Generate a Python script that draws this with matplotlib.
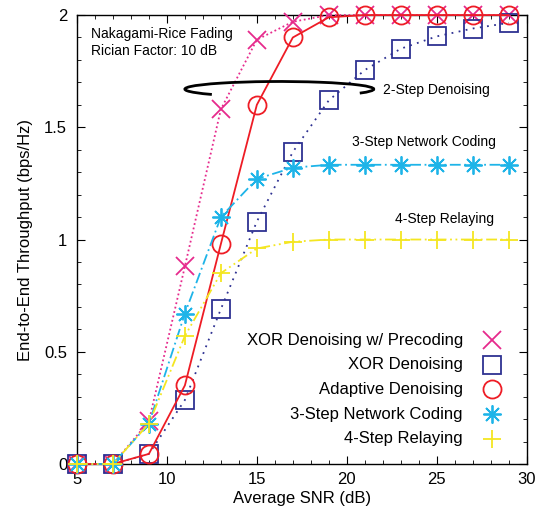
import numpy as np
import matplotlib
matplotlib.use("Agg")
import matplotlib.pyplot as plt
from matplotlib.patches import Arc
from matplotlib.transforms import Affine2D

plt.rcParams["font.family"] = ["Liberation Sans", "DejaVu Sans"]

snr = [5, 7, 9, 11, 13, 15, 17, 19, 21, 23, 25, 27, 29]

xor_precoding = [0, 0, 0.19, 0.88, 1.58, 1.89, 1.97, 2.0, 2.0, 2.0, 2.0, 2.0, 2.0]
xor_denoising = [0, 0, 0.045, 0.285, 0.69, 1.08, 1.39, 1.62, 1.755, 1.85, 1.905, 1.94, 1.965]
adaptive = [0, 0, 0.045, 0.35, 0.98, 1.60, 1.90, 1.99, 2.0, 2.0, 2.0, 2.0, 2.0]
nc_3step = [0, 0, 0.18, 0.67, 1.10, 1.27, 1.32, 1.333, 1.333, 1.333, 1.333, 1.333, 1.333]
relay_4step = [0, 0, 0.18, 0.57, 0.85, 0.96, 0.99, 1.0, 1.0, 1.0, 1.0, 1.0, 1.0]

labels = ["XOR Denoising w/ Precoding", "XOR Denoising", "Adaptive Denoising",
          "3-Step Network Coding", "4-Step Relaying"]

fig = plt.figure(figsize=(5.38, 5.19), dpi=100)
ax = fig.add_axes([0.143, 0.106, 0.836, 0.865])

star = (8, 2, 0)
series = [
    (xor_precoding, "#e62a8c", (0, (1, 1.5)), "x"),
    (xor_denoising, "#2e3192", (0, (1, 3)), "s"),
    (adaptive, "#ee1c25", "-", "o"),
    (nc_3step, "#1eb4e8", (0, (6, 2, 1, 2)), star),
    (relay_4step, "#f4e621", (0, (6, 2, 1, 2, 1, 2)), "+"),
]

# legend drawn by hand: text right-aligned, marker to the right (gnuplot style)
leg_text_x = 0.858
leg_mark_x = 0.922
leg_y0 = 0.276
leg_step = 0.055

for i, (ys, col, ls, mk) in enumerate(series):
    ax.plot(snr, ys, color=col, linestyle=ls, linewidth=1.3,
            marker=mk, markersize=13, markerfacecolor="none", markeredgewidth=1.3,
            clip_on=False, zorder=3)
    yy = leg_y0 - i * leg_step
    ax.text(leg_text_x, yy, labels[i], transform=ax.transAxes, fontsize=12,
            ha="right", va="center")
    ax.plot([leg_mark_x], [yy], transform=ax.transAxes, color=col, linestyle="none",
            marker=mk, markersize=13, markerfacecolor="none", markeredgewidth=1.3)

ax.set_xlim(5, 30)
ax.set_ylim(0, 2)
ax.set_xticks([5, 10, 15, 20, 25, 30])
ax.set_yticks([0, 0.5, 1, 1.5, 2])
ax.set_yticklabels(["0", "0.5", "1", "1.5", "2"])
ax.set_xticks(np.arange(5, 31, 1), minor=True)
ax.set_yticks(np.arange(0, 2.01, 0.1), minor=True)
ax.tick_params(which="both", direction="in", top=True, right=True, labelsize=12)
ax.tick_params(which="major", length=6)
ax.tick_params(which="minor", length=3)
ax.tick_params(axis="y", which="major", pad=7)
ax.tick_params(axis="x", which="major", pad=6)
for s in ax.spines.values():
    s.set_linewidth(1.0)

ax.set_xlabel("Average SNR (dB)", fontsize=12, labelpad=3)
ax.set_ylabel("End-to-End Throughput (bps/Hz)", fontsize=12, labelpad=8)

ax.text(5.78, 1.877, "Nakagami-Rice Fading\nRician Factor: 10 dB", fontsize=10,
        va="center", ha="left", linespacing=1.25)
ax.text(22.0, 1.666, "2-Step Denoising", fontsize=10, va="center", ha="left")
ax.text(20.28, 1.434, "3-Step Network Coding", fontsize=10, va="center", ha="left")
ax.text(22.67, 1.09, "4-Step Relaying", fontsize=10, va="center", ha="left")

# open ellipse grouping the 2-step curves (unit circle scaled into data space)
ell_tr = Affine2D().scale(10.5 / 2, 0.068 / 2).translate(16.25, 1.67) + ax.transData
ax.add_patch(Arc((0, 0), 2, 2, theta1=-31.6, theta2=224.4, transform=ell_tr,
                 color="black", linewidth=2, zorder=4))

fig.savefig("out.png", dpi=100)
